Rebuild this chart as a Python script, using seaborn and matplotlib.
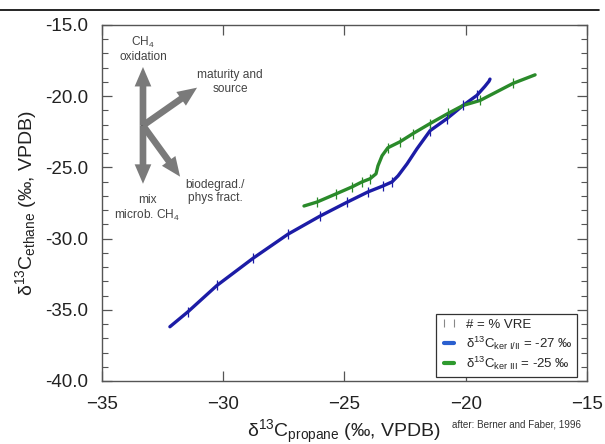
import matplotlib
matplotlib.use("Agg")
import matplotlib.pyplot as plt
import seaborn as sns
from matplotlib.lines import Line2D
from matplotlib.ticker import MultipleLocator, FormatStrFormatter

# kerogen type I/II curve (-27 permil)
blue_x = [-32.20, -31.45, -30.26, -28.77, -27.33, -26.01, -24.90, -24.03, -23.41, -23.04,
          -22.79, -22.42, -22.01, -21.47, -20.77, -20.11, -19.54, -19.21, -19.04, -19.00]
blue_y = [-36.19, -35.13, -33.29, -31.38, -29.69, -28.42, -27.45, -26.72, -26.30, -26.02,
          -25.59, -24.75, -23.69, -22.42, -21.57, -20.65, -19.94, -19.31, -18.95, -18.80]
# VRE tick marks on the I/II curve
blue_vre_x = [-31.45, -30.26, -28.77, -27.33, -26.01, -24.90, -24.03, -23.41, -23.04,
              -21.47, -20.77, -20.11, -19.54]
blue_vre_y = [-35.13, -33.29, -31.38, -29.69, -28.42, -27.45, -26.72, -26.30, -26.02,
              -22.42, -21.57, -20.65, -19.94]

# kerogen type III curve (-25 permil)
green_x = [-26.67, -26.13, -25.35, -24.69, -24.28, -23.95, -23.70, -23.62, -23.45, -23.21,
           -22.71, -22.18, -21.47, -20.73, -20.11, -19.41, -18.05, -17.14]
green_y = [-27.71, -27.43, -26.86, -26.37, -26.02, -25.80, -25.45, -24.89, -24.18, -23.62,
           -23.20, -22.63, -21.92, -21.21, -20.65, -20.30, -19.10, -18.50]
green_vre_x = [-26.13, -25.35, -24.69, -24.28, -23.95, -23.21, -22.71, -22.18, -21.47,
               -20.73, -19.41, -18.05]
green_vre_y = [-27.43, -26.86, -26.37, -26.02, -25.80, -23.62, -23.20, -22.63, -21.92,
               -21.21, -20.30, -19.10]

# process arrows: start point and tips
arrow_start = (-33.31, -22.06)
arrow_tips = [(-33.31, -17.95), (-33.31, -26.15), (-31.08, -19.40), (-31.78, -25.65)]
arrow_labels = ["CH$_4$\noxidation", "mix\nmicrob. CH$_4$", "maturity and\nsource",
                "biodegrad./\nphys fract."]
label_pos = [(-33.31, -16.70), (-33.14, -27.91), (-29.71, -19.01), (-30.33, -26.70)]

sns.set_theme(style="ticks")
plt.rcParams['font.family'] = ['Liberation Sans', 'DejaVu Sans']
plt.rcParams['mathtext.fontset'] = 'custom'
plt.rcParams['mathtext.rm'] = 'Liberation Sans'
plt.rcParams['mathtext.it'] = 'Liberation Sans:italic'

blue = "#1c1ca6"
green = "#2a8a2a"

fig = plt.figure(figsize=(6.05, 4.44), dpi=100)
ax = fig.add_axes([0.1686, 0.1419, 0.8016, 0.8018])

sns.lineplot(x=blue_x, y=blue_y, sort=False, estimator=None, color=blue, lw=2.4, ax=ax)
sns.lineplot(x=green_x, y=green_y, sort=False, estimator=None, color=green, lw=2.4, ax=ax)
ax.plot(blue_vre_x, blue_vre_y, ls='none', marker='|', ms=7, mew=0.9, color=blue)
ax.plot(green_vre_x, green_vre_y, ls='none', marker='|', ms=7, mew=0.9, color=green)

# arrows
for tip in arrow_tips:
    ax.annotate("", xy=tip, xytext=arrow_start,
                arrowprops=dict(arrowstyle="simple,head_length=1.4,head_width=1.2,tail_width=0.48",
                                mutation_scale=10, color="#7a7a7a", lw=0,
                                shrinkA=0, shrinkB=0))
ax.plot(*arrow_start, marker='o', ms=3, color="#222222")
for txt, pos in zip(arrow_labels, label_pos):
    ax.text(pos[0], pos[1], txt, ha='center', va='center', fontsize=8.6,
            color="#444444", linespacing=1.15)

ax.set_xlim(-35, -15)
ax.set_ylim(-40, -15)
ax.xaxis.set_major_locator(MultipleLocator(5))
ax.yaxis.set_major_locator(MultipleLocator(5))
ax.yaxis.set_minor_locator(MultipleLocator(1))
ax.yaxis.set_major_formatter(FormatStrFormatter('%.1f'))
ax.tick_params(which='both', direction='in', top=True, right=True, colors='#555555',
               labelcolor='#222222', labelsize=13.5)
ax.tick_params(which='major', length=7, width=0.9)
ax.tick_params(which='minor', length=4, width=0.8)
ax.tick_params(axis='x', pad=11)
ax.tick_params(axis='y', pad=10)
for s in ax.spines.values():
    s.set_color('#555555')
    s.set_linewidth(1.0)

ax.set_xlabel("δ$^{13}$C$_{\\mathrm{propane}}$ (‰, VPDB)", fontsize=14, color='#222222', labelpad=3)
ax.set_ylabel("δ$^{13}$C$_{\\mathrm{ethane}}$ (‰, VPDB)", fontsize=14, color='#222222', labelpad=4)
fig.text(0.747, 0.043, "after: Berner and Faber, 1996", fontsize=7.1, color='#333333',
         va='center')

handles = [Line2D([], [], ls='none', marker='|', ms=6, mew=0.8, color='#888888'),
           Line2D([], [], color='#2a5fcf', lw=3),
           Line2D([], [], color='#2e9a2e', lw=3)]
labels = ["# = % VRE",
          "δ$^{13}$C$_{\\mathrm{ker\\ I/II}}$ = -27 ‰",
          "δ$^{13}$C$_{\\mathrm{ker\\ III}}$ = -25 ‰"]
leg = ax.legend(handles, labels, loc='lower right', bbox_to_anchor=(0.979, 0.012),
                borderaxespad=0, fontsize=9.5, numpoints=2, fancybox=False,
                handlelength=1.3, handletextpad=0.6, labelspacing=0.25,
                borderpad=0.35, framealpha=1)
leg.get_frame().set_edgecolor('#333333')
leg.get_frame().set_linewidth(0.9)

fig.add_artist(Line2D([0, 0.99], [0.978, 0.978], transform=fig.transFigure,
                      color='black', lw=1.2))

fig.savefig("out.png", dpi=100)
